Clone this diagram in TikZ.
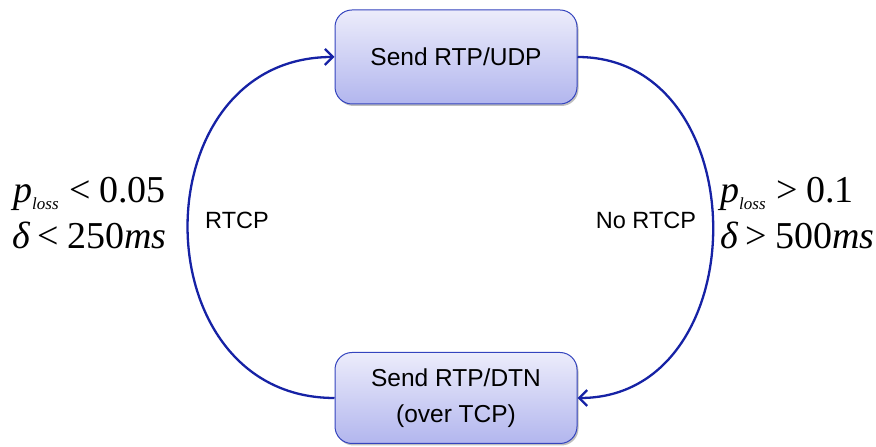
\documentclass[tikz,border=0pt]{standalone}
\usepackage{fontspec}
\setmainfont{Liberation Serif}
\newfontfamily\arialfont{Liberation Sans}
\usetikzlibrary{arrows.meta,shadows}
\definecolor{boxtop}{RGB}{236,236,251}
\definecolor{boxbot}{RGB}{178,182,238}
\definecolor{boxline}{RGB}{52,68,190}
\definecolor{arcblue}{RGB}{22,34,165}
\tikzset{
  statebox/.style={draw=boxline, line width=1pt, rounded corners=17pt,
    top color=boxtop, bottom color=boxbot,
    drop shadow={shadow xshift=1.5pt, shadow yshift=-2pt, opacity=0.25, fill=black},
    minimum width=242pt, align=center, inner sep=0pt,
    font=\arialfont\fontsize{24.5}{36}\selectfont},
  loop/.style={draw=arcblue, line width=2.3pt,
    -{Straight Barb[length=8pt,width=16pt,line width=2.3pt]}},
  sidelabel/.style={font=\arialfont\fontsize{23.5}{26}\selectfont, inner sep=0pt},
  cond/.style={anchor=base west, inner sep=0pt, font=\fontsize{38}{40}\selectfont}
}
\newcommand{\lossvar}{{\itshape p}\raisebox{-7pt}{\fontsize{17}{17}\selectfont\itshape loss}}
\begin{document}
\begin{tikzpicture}[x=1pt,y=1pt]
\useasboundingbox (0,0) rectangle (876,447);

% the two sending states
\node[statebox, minimum height=94pt] (udp) at (456,390) {Send RTP/UDP};
\node[statebox, minimum height=91pt] (dtn) at (456,49) {Send RTP/DTN\\(over TCP)};

% transitions between the states
\draw[loop] (dtn.west) .. controls (139,49) and (139,390) .. (udp.west);
\draw[loop] (udp.east) .. controls (758,390) and (758,49) .. (dtn.east);

% transition labels
\node[sidelabel] (rtcp) at (237,227) {RTCP};
\node[sidelabel] (nortcp) at (646,227) {No RTCP};

% switching conditions
\node[cond] (c1) at (13,244) {\lossvar\hspace{11pt}<\hspace{8pt}0.05};
\node[cond] (c2) at (12,198) {{\itshape δ}\hspace{8pt}<\hspace{8pt}250{\itshape ms}};
\node[cond] (c3) at (720,244) {\lossvar\hspace{11pt}>\hspace{8pt}0.1};
\node[cond] (c4) at (720,198) {{\itshape δ}\hspace{8pt}>\hspace{8pt}500{\itshape ms}};
\end{tikzpicture}
\end{document}
